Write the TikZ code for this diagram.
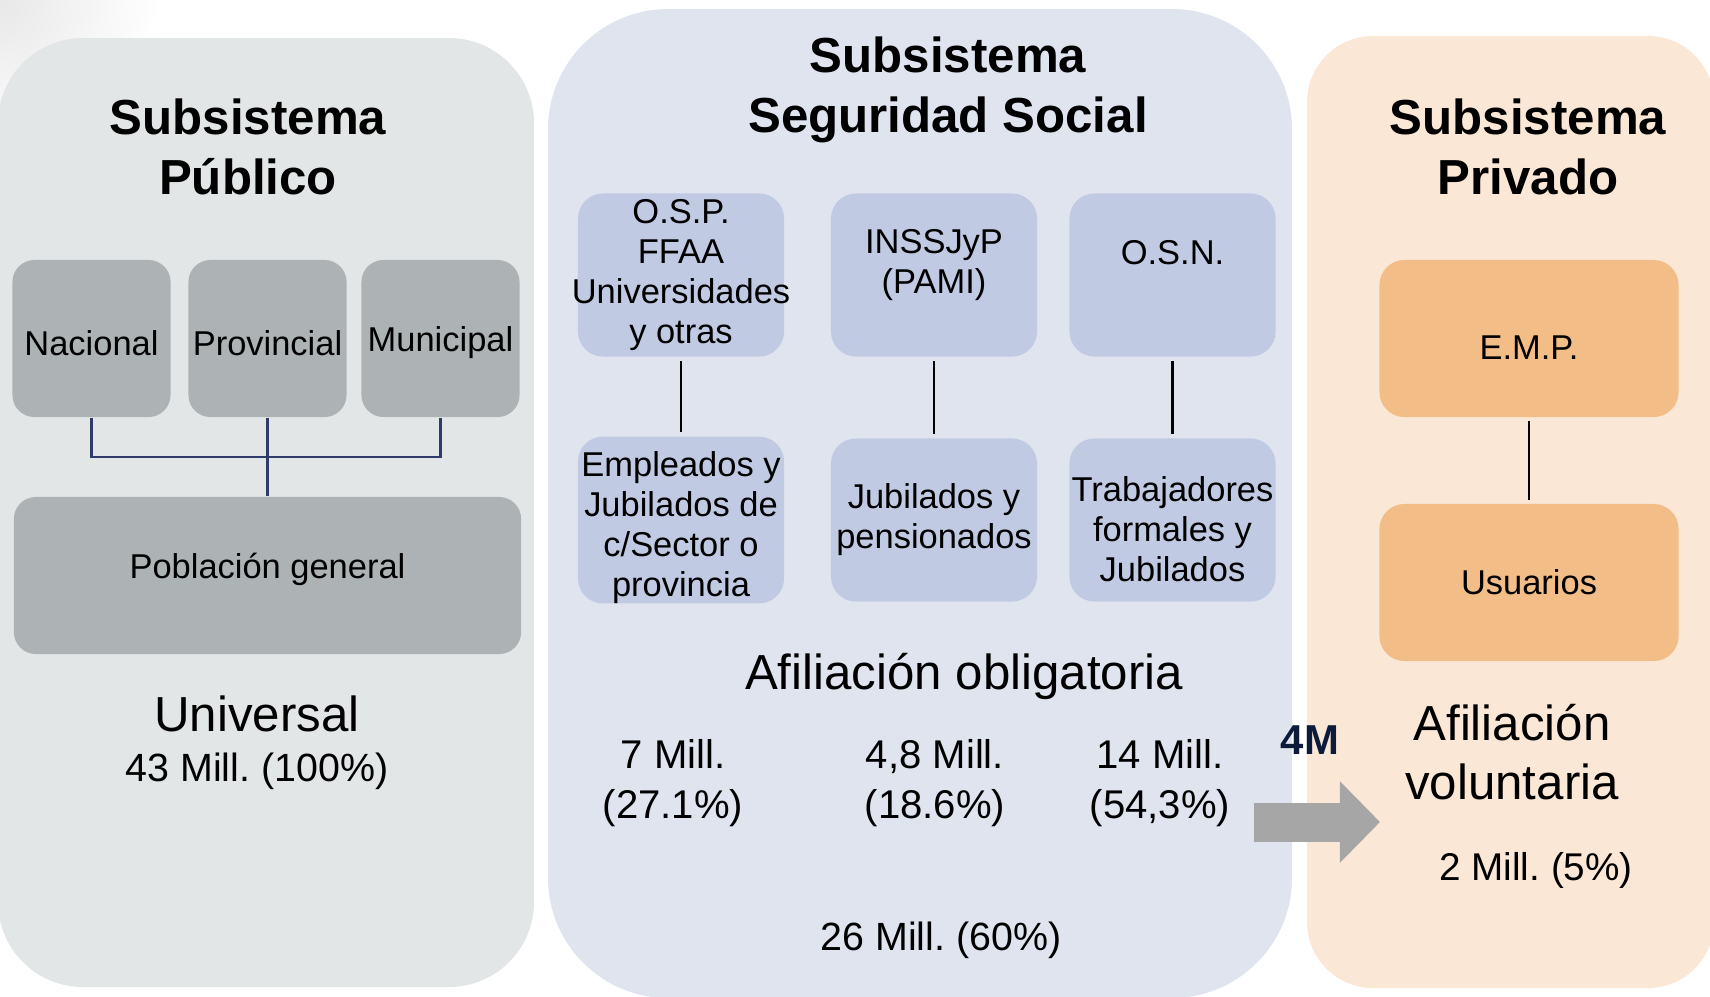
\documentclass[tikz,border=0pt]{standalone}
\usepackage{fontspec}
\setmainfont{Liberation Sans}
\usetikzlibrary{arrows.meta}
\definecolor{panelgrey}{HTML}{E2E6E7}
\definecolor{panelblue}{HTML}{E0E4EF}
\definecolor{panelpeach}{HTML}{FBE7D6}
\definecolor{boxgrey}{HTML}{ADB2B5}
\definecolor{boxblue}{HTML}{C0CAE2}
\definecolor{boxorange}{HTML}{F3BD87}
\definecolor{linknavy}{HTML}{2F3C6B}
\definecolor{flowgrey}{HTML}{A6A6A6}
\definecolor{labelnavy}{HTML}{0D1B3A}
\tikzstyle{greybox}=[rectangle,rounded corners=0.22cm,fill=boxgrey,minimum width=1.58cm,minimum height=1.57cm,inner sep=0pt,align=center,font=\fontsize{9.8}{11.4}\selectfont]
\tikzstyle{bluebox}=[greybox,fill=boxblue,minimum width=2.06cm,minimum height=1.63cm,rounded corners=0.25cm]
\tikzstyle{orangebox}=[greybox,fill=boxorange,minimum width=2.99cm,rounded corners=0.25cm]
\tikzstyle{heading}=[align=center,font=\bfseries\fontsize{14}{17}\selectfont]
\tikzstyle{bigtext}=[align=center,font=\fontsize{14}{17}\selectfont]
\tikzstyle{numtext}=[align=center,font=\fontsize{11.4}{14}\selectfont]
\tikzstyle{link}=[draw=linknavy,line width=0.7pt]
\tikzstyle{edge}=[draw,line width=0.6pt,shorten <=1pt,shorten >=1pt]
\tikzstyle{flow}=[draw=flowgrey,line width=11.1pt,-{Triangle[length=11.4pt,width=22.5pt]}]
\begin{document}
\frenchspacing
\begin{tikzpicture}[x=0.01cm,y=-0.01cm]
    \useasboundingbox (0,0) rectangle (1710,996);
    \clip (0,0) rectangle (1710,996);
    % Faint shade in the corner
    \shade[inner color=black!9,outer color=white] (0,0) circle (1.6cm);
    % First we draw the three panels
    \fill[panelgrey,rounded corners=0.85cm] (-2,38) rectangle (534,987);
    \fill[panelblue,rounded corners=1.2cm] (548,9) rectangle (1292,998);
    \fill[panelpeach,rounded corners=0.66cm] (1307,36) rectangle (1714,988);
    % Headings
    \node[heading] (pubtitle) at (248,147) {Subsistema\\Público};
    \node[heading] (sstitle) at (948,90) {Subsistema\\Seguridad Social};
    \node[heading] (privtitle) at (1528,147) {Subsistema\\Privado};

    % Public subsystem
    \foreach \pos/\name/\txt in {{(91.5,338.5)/nac/{\\[-1.7pt]Nacional}}, {(267.5,338.5)/prov/{\\[-1.7pt]Provincial}}, {(440.5,338.5)/mun/{\\[-1.7pt]Municipal}}}
        \node[greybox] (\name) at \pos {\txt};
    \node[greybox,minimum width=5.07cm] (pob) at (267.5,575.5) {Población general\\[-5.9pt]};
    \coordinate (pubjoin) at (267.5,457);
    \path[link] (nac.south) |- (pubjoin) -| (mun.south);
    \path[link] (prov.south) -- (pob.north);
    \node[bigtext] (universal) at (257,714) {Universal};
    \node[numtext,font=\fontsize{11.2}{14}\selectfont] (pubcount) at (257,771) {43 Mill. (100\%)};

    % Social security subsystem
    \foreach \pos/\name/\txt in {{(681,275)/osp/{O.S.P.\\FFAA\\\makebox[0pt]{Universidades}\\y otras}}, {(934,275)/pami/{INSSJyP\\(PAMI)\\[-3.8pt]}}, {(1172.5,275)/osn/{O.S.N.\\[1.6pt]}}, {(681,520)/empleados/{\\[-0.2pt]Empleados y\\Jubilados de\\c/Sector o\\provincia}}, {(934,520)/jubilados/{Jubilados y\\pensionados}}, {(1172.5,520)/trabajadores/{\\[0.8pt]Trabajadores\\formales y\\Jubilados}}}
        \node[bluebox] (\name) at \pos {\txt};
    % Connect the funds with who they cover
    \foreach \source/\dest in {osp/empleados, pami/jubilados, osn/trabajadores}
        \path[edge] (\source) -- (\dest);
    \node[bigtext] (obligatoria) at (964,676) {Afiliación obligatoria};
    \foreach \pos/\name/\txt in {{(673,783)/cntosp/{7 Mill.\\(27.1\%)}}, {(935,783)/cntpami/{4,8 Mill.\\(18.6\%)}}, {(1160,783)/cntosn/{14 Mill.\\(54,3\%)}}}
        \node[numtext] (\name) at \pos {\txt};
    \node[numtext,font=\fontsize{11.2}{14}\selectfont] (sstotal) at (941,940) {26 Mill. (60\%)};

    % Private subsystem
    \node[orangebox] (emp) at (1529,338.5) {\\[0.8pt]E.M.P.};
    \node[orangebox] (usuarios) at (1529,582.5) {Usuarios};
    \path[edge] (emp) -- (usuarios);
    \node[bigtext] (voluntaria) at (1512,752) {Afiliación\\voluntaria};
    \node[numtext,font=\fontsize{11}{14}\selectfont] (privcount) at (1536,870) {2 Mill. (5\%)};

    % Flow into the private subsystem
    \coordinate (flowstart) at (1254,822);
    \coordinate (flowend) at (1380,822);
    \path[flow] (flowstart) -- (flowend);
    \node[font=\bfseries\fontsize{11.9}{14}\selectfont,text=labelnavy] (fourm) at (1310,740) {4M};
\end{tikzpicture}
\end{document}
